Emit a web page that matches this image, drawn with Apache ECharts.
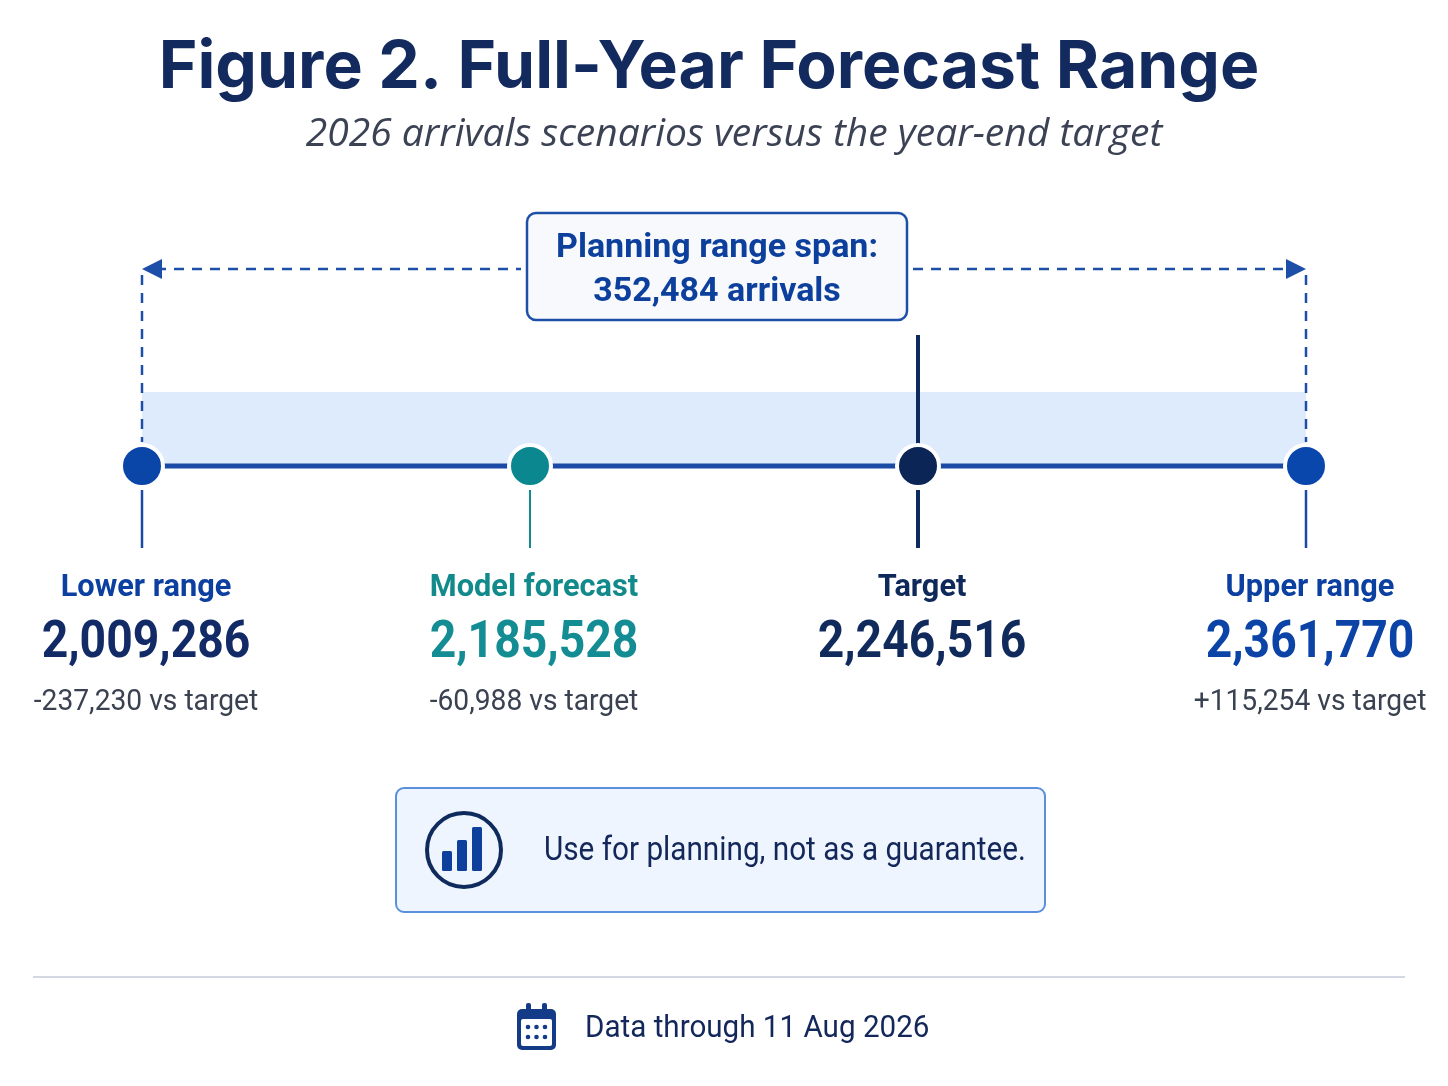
<!DOCTYPE html>
<html lang="en">

<head>
    <meta charset="UTF-8">
    <title>Full-Year Forecast Range</title>
    <style>
        html, body { margin: 0; padding: 0; background: #ffffff; }
        #main { width: 1448px; height: 1086px; }
    </style>
</head>

<body>
    <div id="main"></div>
    <script src="https://cdn.jsdelivr.net/npm/echarts@6/dist/echarts.min.js"></script>
    <script>
        // scenario data (arrivals, full year 2026)
        var categories = ['Lower range', 'Model forecast', 'Target', 'Upper range'];
        var values = [2009286, 2185528, 2246516, 2361770];
        var targetIndex = 2;
        var dataThrough = '11 Aug 2026';

        // colours per scenario
        var nameColors = ['#0b3fa0', '#128a8c', '#0f2a5a', '#0b3fa0'];
        var valueColors = ['#122a66', '#138c94', '#102a5c', '#0b43a6'];
        var dotColors = ['#0a45a8', '#0b8790', '#0b2556', '#0a47ad'];

        var labelFont = "'Roboto', 'Liberation Sans', sans-serif";
        var fmt = function (v) { return v.toLocaleString('en-US'); };

        var span = values[values.length - 1] - values[0];

        var myChart = echarts.init(document.getElementById('main'));

        var pointData = categories.map(function (c, i) { return [i, 0]; });

        var option = {
            backgroundColor: '#ffffff',
            animation: false,
            grid: { left: 142, right: 142, top: 392, height: 148 },
            xAxis: {
                type: 'category',
                data: categories,
                boundaryGap: false,
                show: false
            },
            yAxis: { type: 'value', min: -1, max: 1, show: false },
            series: [
                {
                    // main range line + shaded band
                    type: 'line',
                    data: pointData,
                    symbol: 'none',
                    lineStyle: { color: '#1a4aa6', width: 5 },
                    z: 3,
                    markArea: {
                        silent: true,
                        itemStyle: { color: '#deebfc' },
                        data: [[{ coord: [0, 0] }, { coord: [categories.length - 1, 1] }]]
                    }
                },
                {
                    // dashed span bracket with the callout box
                    type: 'custom',
                    data: [[0, 0]],
                    z: 2,
                    renderItem: function (params, api) {
                        var a = api.coord([0, 0]);
                        var b = api.coord([categories.length - 1, 0]);
                        var y = a[1] - 197;
                        var mid = (a[0] + b[0]) / 2 - 7;
                        var dash = { stroke: '#1d4fa8', lineWidth: 2.5, lineDash: [10, 8] };
                        var boxFont = "bold 34px 'Roboto', 'Open Sans', sans-serif";
                        return {
                            type: 'group',
                            children: [
                                { type: 'line', shape: { x1: a[0] + 14, y1: y, x2: mid - 196, y2: y }, style: dash },
                                { type: 'line', shape: { x1: mid + 196, y1: y, x2: b[0] - 14, y2: y }, style: dash },
                                { type: 'line', shape: { x1: a[0], y1: y + 6, x2: a[0], y2: a[1] - 24 }, style: dash },
                                { type: 'line', shape: { x1: b[0], y1: y + 6, x2: b[0], y2: a[1] - 24 }, style: dash },
                                { type: 'polygon', shape: { points: [[a[0], y], [a[0] + 20, y - 10], [a[0] + 20, y + 10]] }, style: { fill: '#1d4fa8' } },
                                { type: 'polygon', shape: { points: [[b[0], y], [b[0] - 20, y - 10], [b[0] - 20, y + 10]] }, style: { fill: '#1d4fa8' } },
                                {
                                    type: 'rect',
                                    shape: { x: mid - 190, y: y - 56, width: 380, height: 107, r: 9 },
                                    style: { fill: '#f7f9fd', stroke: '#1d4fa8', lineWidth: 2.5 }
                                },
                                {
                                    type: 'text',
                                    x: mid, y: y - 21,
                                    style: { text: 'Planning range span:', fill: '#0d3f9c', align: 'center', verticalAlign: 'middle', font: boxFont }
                                },
                                {
                                    type: 'text',
                                    x: mid, y: y + 23,
                                    style: { text: fmt(span) + ' arrivals', fill: '#0d3f9c', align: 'center', verticalAlign: 'middle', font: boxFont }
                                }
                            ]
                        };
                    }
                },
                {
                    // ticks and labels under each scenario
                    type: 'custom',
                    data: pointData,
                    z: 4,
                    renderItem: function (params, api) {
                        var i = api.value(0);
                        var p = api.coord([i, 0]);
                        var x = p[0], y = p[1];
                        var isTarget = i === targetIndex;
                        var kids = [];
                        var tickColor = i === 1 ? '#138a8f' : (isTarget ? '#0f2a5c' : '#1a4aa6');
                        var tickW = isTarget ? 4 : (i === 1 ? 2 : 2.5);
                        kids.push({ type: 'line', shape: { x1: x, y1: y + 24, x2: x, y2: y + 82 }, style: { stroke: tickColor, lineWidth: tickW } });
                        if (isTarget) {
                            kids.push({ type: 'line', shape: { x1: x, y1: y - 131, x2: x, y2: y - 20 }, style: { stroke: tickColor, lineWidth: tickW } });
                        }
                        kids.push({
                            type: 'text', x: x + 4, y: y + 122, scaleX: 0.96,
                            style: { text: categories[i], fill: nameColors[i], align: 'center', verticalAlign: 'middle', font: 'bold 32px ' + labelFont }
                        });
                        kids.push({
                            type: 'text', x: x + 4, y: y + 178, scaleX: 0.89,
                            style: { text: fmt(values[i]), fill: valueColors[i], align: 'center', verticalAlign: 'middle', font: 'bold 52px ' + labelFont }
                        });
                        if (!isTarget) {
                            var d = values[i] - values[targetIndex];
                            kids.push({
                                type: 'text', x: x + 4, y: y + 236, scaleX: 0.94,
                                style: { text: (d > 0 ? '+' : '') + fmt(d) + ' vs target', fill: '#3a4150', align: 'center', verticalAlign: 'middle', font: '30px ' + labelFont }
                            });
                        }
                        return { type: 'group', children: kids };
                    }
                },
                {
                    // scenario markers
                    type: 'scatter',
                    data: pointData.map(function (d, i) {
                        return { value: d, itemStyle: { color: dotColors[i] } };
                    }),
                    symbolSize: 42,
                    itemStyle: { borderColor: '#ffffff', borderWidth: 4, opacity: 1 },
                    z: 5
                }
            ],
            graphic: {
                elements: [
                    {
                        type: 'text', x: 709, y: 68,
                        style: { text: 'Figure 2. Full-Year Forecast Range', fill: '#132a5e', align: 'center', verticalAlign: 'middle', font: "bold 66px 'Inter', 'Roboto', sans-serif" }
                    },
                    {
                        type: 'text', x: 734, y: 135,
                        style: { text: '2026 arrivals scenarios versus the year-end target', fill: '#3b4254', align: 'center', verticalAlign: 'middle', font: "italic 39px 'Open Sans', 'Lato', sans-serif" }
                    },
                    // note box
                    {
                        type: 'rect',
                        shape: { x: 396, y: 788, width: 649, height: 124, r: 8 },
                        style: { fill: '#eef5fe', stroke: '#5a8fdc', lineWidth: 2 }
                    },
                    {
                        type: 'circle',
                        shape: { cx: 464, cy: 850, r: 37 },
                        style: { fill: 'none', stroke: '#0f2a5c', lineWidth: 4 }
                    },
                    { type: 'rect', shape: { x: 442, y: 851, width: 10, height: 20, r: 1.5 }, style: { fill: '#0d3f9c' } },
                    { type: 'rect', shape: { x: 457, y: 840, width: 10, height: 31, r: 1.5 }, style: { fill: '#0d3f9c' } },
                    { type: 'rect', shape: { x: 472, y: 827, width: 10, height: 44, r: 1.5 }, style: { fill: '#0d3f9c' } },
                    {
                        type: 'text', x: 544, y: 852, scaleX: 0.9,
                        style: { text: 'Use for planning, not as a guarantee.', fill: '#13275a', align: 'left', verticalAlign: 'middle', font: '33px ' + labelFont }
                    },
                    // footer rule
                    {
                        type: 'line',
                        shape: { x1: 33, y1: 977, x2: 1405, y2: 977 },
                        style: { stroke: '#d3d9e4', lineWidth: 2 }
                    },
                    // calendar icon
                    { type: 'rect', shape: { x: 517, y: 1009, width: 39, height: 41, r: 5 }, style: { fill: '#133b88' } },
                    { type: 'rect', shape: { x: 526, y: 1003, width: 5, height: 10, r: 2 }, style: { fill: '#133b88' } },
                    { type: 'rect', shape: { x: 542, y: 1003, width: 5, height: 10, r: 2 }, style: { fill: '#133b88' } },
                    { type: 'rect', shape: { x: 521, y: 1019, width: 31, height: 27, r: 2 }, style: { fill: '#ffffff' } },
                    { type: 'circle', shape: { cx: 528, cy: 1027, r: 2.3 }, style: { fill: '#133b88' } },
                    { type: 'circle', shape: { cx: 536.5, cy: 1027, r: 2.3 }, style: { fill: '#133b88' } },
                    { type: 'circle', shape: { cx: 545, cy: 1027, r: 2.3 }, style: { fill: '#133b88' } },
                    { type: 'circle', shape: { cx: 528, cy: 1037, r: 2.3 }, style: { fill: '#133b88' } },
                    { type: 'circle', shape: { cx: 536.5, cy: 1037, r: 2.3 }, style: { fill: '#133b88' } },
                    { type: 'circle', shape: { cx: 545, cy: 1037, r: 2.3 }, style: { fill: '#133b88' } },
                    {
                        type: 'text', x: 585, y: 1029, scaleX: 0.925,
                        style: { text: 'Data through ' + dataThrough, fill: '#13275a', align: 'left', verticalAlign: 'middle', font: '32px ' + labelFont }
                    }
                ]
            }
        };

        option && myChart.setOption(option);
    </script>
</body>

</html>
